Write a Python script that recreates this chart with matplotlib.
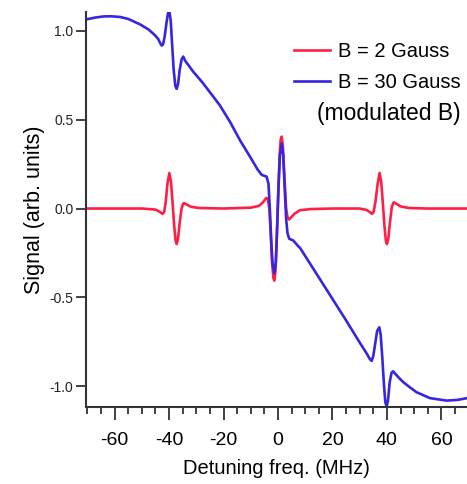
import matplotlib
matplotlib.use("Agg")
import matplotlib.pyplot as plt
from matplotlib.ticker import MultipleLocator

plt.rcParams['font.family'] = ['Liberation Sans', 'DejaVu Sans']

# B = 2 Gauss (red)
red_x = [-70.5, -50, -45, -43.5, -42.4, -41.8, -41.2, -40.6, -39.9, -39.3, -38.7,
         -38.1, -37.6, -37.2, -36.7, -36.1, -35.4, -34.8, -34.4, -33.5, -32, -29,
         -20, -10, -7, -5.5, -4.6, -4.2, -3.7, -3.2, -2.7, -2.2, -1.7, -1.35, -0.9,
         -0.4, 0.1, 0.6, 1.0, 1.35, 1.8, 2.4, 3.0, 3.5, 4.1, 4.8, 6, 8, 12, 20,
         30, 32.5, 33.7, 34.5, 35.1, 35.8, 36.6, 37.3, 37.9, 38.5, 39.1, 39.6, 40,
         40.5, 41.1, 41.8, 42.5, 43.3, 45, 48, 55, 69.4]
red_y = [0.0, 0.0, -0.006, -0.018, -0.03, -0.02, 0.04, 0.14, 0.2, 0.15, 0.03,
         -0.1, -0.18, -0.2, -0.17, -0.08, 0.0, 0.028, 0.03, 0.022, 0.01, 0.003,
         0.0, 0.005, 0.015, 0.035, 0.055, 0.06, 0.05, 0.0, -0.13, -0.3, -0.39, -0.406, -0.35,
         -0.15, 0.1, 0.3, 0.39, 0.405, 0.35, 0.17, 0.0, -0.05, -0.062, -0.05, -0.03, -0.01, -0.003, 0.0,
         0.0, -0.008, -0.02, -0.03, -0.02, 0.04, 0.14, 0.2, 0.15, 0.03, -0.1, -0.18, -0.2,
         -0.17, -0.08, 0.01, 0.035, 0.028, 0.012, 0.003, 0.0, 0.0]

# B = 30 Gauss, modulated B (blue)
blue_x = [-70.5, -67, -64, -61.5, -58, -55, -50.6, -47.5, -45.1, -44, -43.2, -42.7,
          -42.2, -41.6, -41, -40.4, -39.9, -39.4, -38.9, -38.3, -37.7, -37.2, -36.7,
          -36.1, -35.4, -34.8, -34, -33, -31.1, -28, -24.5, -21.3, -17.5, -13.9, -10,
          -7.5, -6, -5.4, -4.2, -3.5, -3, -2.5, -2, -1.35, -0.8, -0.3, 0.2, 0.7, 1.35,
          1.9, 2.5, 3, 3.5, 4.1, 5.6, 7.3, 8.1, 13, 19, 25, 30, 32.5, 33.8, 34.4, 35,
          35.7, 36.4, 37.2, 37.7, 38.3, 38.9, 39.4, 39.9, 40.4, 41, 41.7, 42.3, 43,
          44.5, 46, 48.5, 50.9, 55.8, 61.9, 66, 69.4]
blue_y = [1.065, 1.076, 1.082, 1.083, 1.079, 1.068, 1.037, 1.008, 0.975, 0.955, 0.93, 0.918,
          0.925, 0.97, 1.04, 1.1, 1.11, 1.06, 0.93, 0.78, 0.69, 0.674, 0.7,
          0.78, 0.84, 0.856, 0.83, 0.81, 0.77, 0.715, 0.645, 0.58, 0.485, 0.383, 0.285,
          0.22, 0.19, 0.186, 0.18, 0.14, 0.0, -0.18, -0.31, -0.366, -0.3, -0.1, 0.12, 0.3, 0.366,
          0.3, 0.1, -0.06, -0.14, -0.17, -0.18, -0.21, -0.222, -0.34, -0.485, -0.63, -0.755, -0.815, -0.85, -0.858, -0.83,
          -0.76, -0.69, -0.669, -0.71, -0.84, -0.99, -1.09, -1.115, -1.08, -0.98, -0.925, -0.917, -0.93,
          -0.955, -0.978, -1.008, -1.035, -1.068, -1.082, -1.078, -1.068]

labels = ['B = 2 Gauss', 'B = 30 Gauss']
xticks = [-60, -40, -20, 0, 20, 40, 60]
yticks = [-1.0, -0.5, 0.0, 0.5, 1.0]

fig = plt.figure(figsize=(4.67, 4.84), dpi=100)
ax = fig.add_axes([86 / 467, 77 / 484, 381 / 467, 395 / 484])

ax.plot(red_x, red_y, color='#ff1f45', lw=1.9, label=labels[0])
ax.plot(blue_x, blue_y, color='#3626e0', lw=1.9, label=labels[1])

ax.set_xlim(-70.5, 69.4)
ax.set_ylim(-1.118, 1.107)

for s in ['top', 'right']:
    ax.spines[s].set_visible(False)
for s in ['left', 'bottom']:
    ax.spines[s].set_linewidth(1.5)
    ax.spines[s].set_color('#333333')

ax.set_xticks(xticks)
ax.set_xticklabels([str(t) for t in xticks])
ax.xaxis.set_minor_locator(MultipleLocator(5))
ax.set_yticks(yticks)
ax.set_yticklabels(['%.1f' % t for t in yticks])

ax.tick_params(axis='x', which='major', length=9, width=1.3, color='#333333',
               labelsize=14, pad=9)
ax.tick_params(axis='x', which='minor', length=5, width=1.3, color='#333333')
ax.tick_params(axis='y', which='major', length=7, width=1.3, color='#333333',
               labelsize=10, pad=2, labelcolor='#222222')

ax.set_xlabel('Detuning freq. (MHz)', fontsize=14.5, labelpad=7)
ax.set_ylabel('Signal (arb. units)', fontsize=15.5, labelpad=3)

leg = ax.legend(loc='upper left', bbox_to_anchor=(0.546, 0.925), frameon=False,
                fontsize=14.5, handlelength=1.8, handletextpad=0.4,
                borderpad=0, borderaxespad=0, labelspacing=0.62)
ax.text(0.982, 0.744, '(modulated B)', transform=ax.transAxes, fontsize=16.5,
        ha='right', va='center')

fig.savefig('out.png', dpi=100)
